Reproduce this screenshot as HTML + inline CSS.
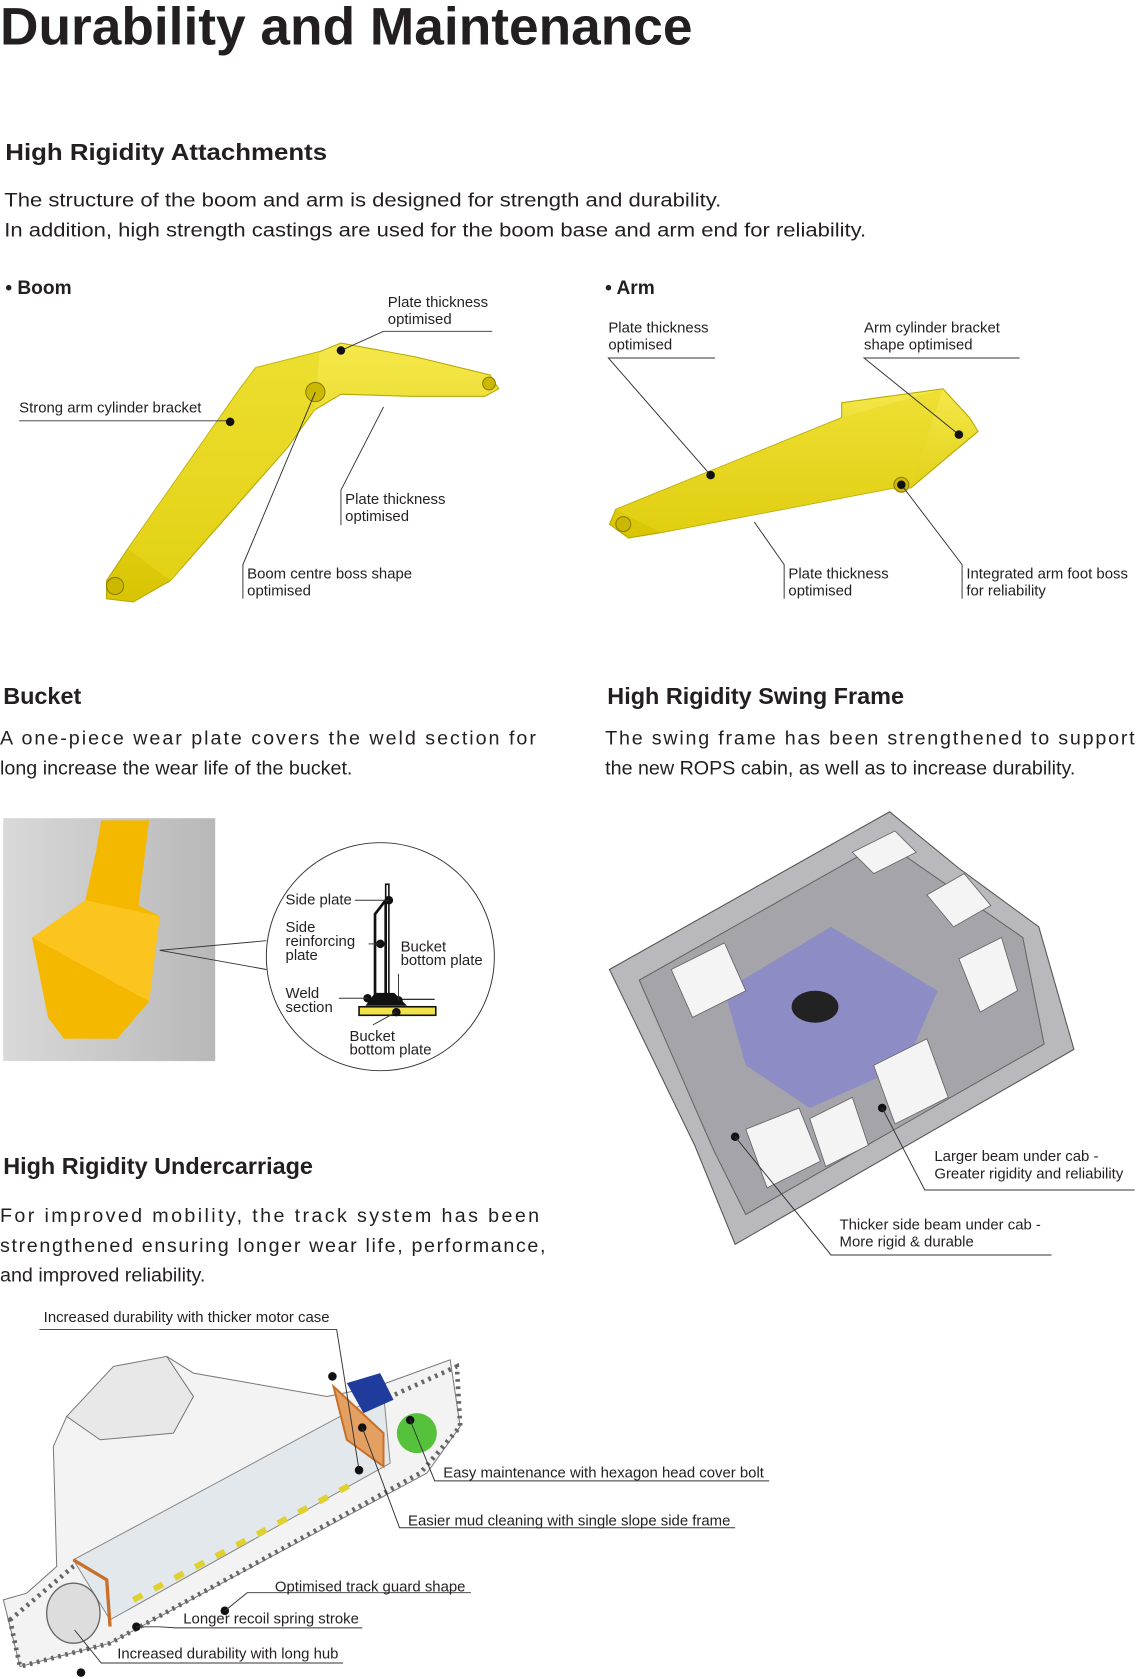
<!DOCTYPE html>
<html><head><meta charset="utf-8"><style>
html,body{margin:0;padding:0;background:#fff;}
svg{display:block;}
text{font-family:"Liberation Sans",Arial,sans-serif;fill:#231f20;}
.l{font-size:14px;}
.b{font-size:18.5px;}
.h{font-size:22px;font-weight:bold;}
.ln{stroke:#333;stroke-width:0.9;fill:none;}
.dot{fill:#111;}
</style></head><body>
<svg width="1140" height="1679" viewBox="0 0 1070 1576" preserveAspectRatio="none" xmlns="http://www.w3.org/2000/svg">
<defs>
<linearGradient id="yg" x1="0" y1="0" x2="0" y2="1"><stop offset="0" stop-color="#f5e84a"/><stop offset="1" stop-color="#d8c400"/></linearGradient>
<linearGradient id="bg" x1="0" y1="0" x2="1" y2="0"><stop offset="0" stop-color="#d9d9d9"/><stop offset="1" stop-color="#b8b8b8"/></linearGradient>
</defs>

<text x="0" y="42" font-size="50" font-weight="bold" textLength="650" lengthAdjust="spacingAndGlyphs">Durability and Maintenance</text>
<text x="5" y="150" class="h" textLength="302" lengthAdjust="spacingAndGlyphs">High Rigidity Attachments</text>
<text x="4" y="194" class="b" textLength="673" lengthAdjust="spacingAndGlyphs">The structure of the boom and arm is designed for strength and durability.</text>
<text x="4" y="222" class="b" textLength="809" lengthAdjust="spacingAndGlyphs">In addition, high strength castings are used for the boom base and arm end for reliability.</text>

<text x="5" y="276" font-size="18" font-weight="bold">• Boom</text>
<text x="568" y="276" font-size="18" font-weight="bold">• Arm</text>

<!-- Boom -->
<polygon points="100,545 120,515 225,365 240,345 300,330 320,322 390,335 460,352 468,365 455,372 385,372 320,370 295,385 270,420 160,545 125,565 100,562" fill="url(#yg)" stroke="#b8a800" stroke-width="1"/>
<polygon points="120,515 225,365 240,345 300,330 295,385 160,545" fill="#e8d820" opacity="0.6"/>
<circle cx="296" cy="368" r="9" fill="#cbb800" stroke="#8a7c00"/>
<circle cx="459" cy="360" r="6" fill="#cbb800" stroke="#8a7c00"/>
<circle cx="108" cy="550" r="8" fill="#cbb800" stroke="#8a7c00"/>
<polyline class="ln" points="320,329 360,311 462,311"/><circle class="dot" cx="320" cy="329" r="4"/>
<text x="364" y="288" class="l">Plate thickness</text><text x="364" y="304" class="l">optimised</text>
<polyline class="ln" points="18,395 216,395"/><circle class="dot" cx="216" cy="396" r="4"/>
<text x="18" y="387" class="l">Strong arm cylinder bracket</text>
<polyline class="ln" points="360,382 320,460 320,493"/>
<text x="324" y="473" class="l">Plate thickness</text><text x="324" y="489" class="l">optimised</text>
<polyline class="ln" points="296,368 228,530 228,562"/>
<text x="232" y="543" class="l">Boom centre boss shape</text><text x="232" y="559" class="l">optimised</text>

<!-- Arm -->
<polygon points="572,492 578,478 790,392 790,378 885,365 910,392 918,405 900,420 855,458 840,458 620,500 590,505" fill="url(#yg)" stroke="#b8a800"/>
<polygon points="578,478 790,392 885,365 855,458 840,458 620,500" fill="#e8d820" opacity="0.5"/>
<circle cx="846" cy="455" r="7" fill="#cbb800" stroke="#8a7c00"/>
<circle cx="585" cy="492" r="7" fill="#cbb800" stroke="#8a7c00"/>
<text x="571" y="312" class="l">Plate thickness</text><text x="571" y="328" class="l">optimised</text>
<polyline class="ln" points="671,336 571,336 667,446"/><circle class="dot" cx="667" cy="446" r="4"/>
<text x="811" y="312" class="l">Arm cylinder bracket</text><text x="811" y="328" class="l">shape optimised</text>
<polyline class="ln" points="957,336 811,336 900,408"/><circle class="dot" cx="900" cy="408" r="4"/>
<polyline class="ln" points="708,490 736,530 736,562"/>
<text x="740" y="543" class="l">Plate thickness</text><text x="740" y="559" class="l">optimised</text>
<polyline class="ln" points="846,455 903,530 903,562"/><circle class="dot" cx="846" cy="455" r="4"/>
<text x="907" y="543" class="l">Integrated arm foot boss</text><text x="907" y="559" class="l">for reliability</text>

<!-- Bucket section -->
<text x="3" y="661" class="h">Bucket</text>
<text x="0" y="699" class="b" textLength="503" lengthAdjust="spacing">A one-piece wear plate covers the weld section for</text>
<text x="0" y="727" class="b">long increase the wear life of the bucket.</text>

<rect x="3" y="768" width="199" height="228" fill="url(#bg)"/>
<polygon points="95,770 140,770 130,850 150,860 140,940 110,975 60,975 45,955 30,880 80,845 90,800" fill="#f5b800"/>
<polygon points="30,880 80,845 150,860 140,940" fill="#ffcc33" opacity="0.6"/>
<polyline class="ln" points="150,892 250,883"/><polyline class="ln" points="150,892 250,910"/>
<circle cx="357" cy="898" r="107" fill="#fff" stroke="#333" stroke-width="0.9"/>
<rect x="337" y="945" width="72" height="8" fill="#f2e24a" stroke="#111" stroke-width="1.5"/>
<rect x="362" y="830" width="3" height="108" fill="#fff" stroke="#111" stroke-width="1.5"/>
<polygon points="352,858 362,845 362,938 352,938" fill="#fff" stroke="#111" stroke-width="2.5"/>
<polygon points="343,944 352,932 370,932 382,944" fill="#111"/>
<line x1="370" y1="938" x2="408" y2="938" stroke="#111" stroke-width="1"/>
<circle class="dot" cx="365" cy="845" r="4"/><line class="ln" x1="333" y1="845" x2="365" y2="845"/>
<circle class="dot" cx="357" cy="886" r="4"/><line class="ln" x1="346" y1="886" x2="357" y2="886"/>
<circle class="dot" cx="345" cy="937" r="4"/><line class="ln" x1="318" y1="937" x2="345" y2="937"/>
<circle class="dot" cx="374" cy="939" r="4"/><line class="ln" x1="374" y1="939" x2="374" y2="914"/>
<circle class="dot" cx="372" cy="950" r="4"/><line class="ln" x1="372" y1="950" x2="350" y2="962"/>
<text x="268" y="849" class="l">Side plate</text>
<text x="268" y="875" class="l">Side</text><text x="268" y="888" class="l">reinforcing</text><text x="268" y="901" class="l">plate</text>
<text x="376" y="893" class="l">Bucket</text><text x="376" y="906" class="l">bottom plate</text>
<text x="268" y="937" class="l">Weld</text><text x="268" y="950" class="l">section</text>
<text x="328" y="977" class="l">Bucket</text><text x="328" y="990" class="l">bottom plate</text>

<!-- Swing frame -->
<text x="570" y="661" class="h">High Rigidity Swing Frame</text>
<text x="568" y="699" class="b" textLength="497" lengthAdjust="spacing">The swing frame has been strengthened to support</text>
<text x="568" y="727" class="b">the new ROPS cabin, as well as to increase durability.</text>
<polygon points="572,910 835,762 900,815 975,870 1008,985 690,1168 652,1075" fill="#b9b9bd" stroke="#555" stroke-width="1"/>
<polygon points="600,920 830,790 960,880 980,980 700,1140 670,1080" fill="#a4a4aa" stroke="#666"/>
<polygon points="680,930 780,870 880,930 850,1000 760,1040 700,1000" fill="#8e8cc4"/>
<ellipse cx="765" cy="945" rx="22" ry="15" fill="#222"/>
<g fill="#f4f4f4" stroke="#666" stroke-width="0.8">
<polygon points="800,800 840,780 860,800 820,820"/><polygon points="870,840 905,820 930,850 895,870"/>
<polygon points="900,900 940,880 955,930 920,950"/><polygon points="820,1000 870,975 890,1030 840,1055"/>
<polygon points="700,1060 750,1040 770,1090 720,1115"/><polygon points="630,910 680,885 700,930 650,955"/>
<polygon points="760,1050 800,1030 815,1075 775,1095"/>
</g>
<circle class="dot" cx="828" cy="1040" r="4"/><polyline class="ln" points="828,1040 868,1117 1065,1117"/>
<text x="877" y="1090" class="l">Larger beam under cab -</text><text x="877" y="1106" class="l">Greater rigidity and reliability</text>
<circle class="dot" cx="690" cy="1067" r="4"/><polyline class="ln" points="690,1067 780,1178 987,1178"/>
<text x="788" y="1154" class="l">Thicker side beam under cab -</text><text x="788" y="1170" class="l">More rigid &amp; durable</text>

<!-- Undercarriage -->
<text x="3" y="1102" class="h">High Rigidity Undercarriage</text>
<text x="0" y="1147" class="b" textLength="506" lengthAdjust="spacing">For improved mobility, the track system has been</text>
<text x="0" y="1175" class="b" textLength="512" lengthAdjust="spacing">strengthened ensuring longer wear life, performance,</text>
<text x="0" y="1203" class="b">and improved reliability.</text>

<g transform="translate(0,1220) scale(0.313)">
<path d="M160,440 L200,350 L500,170 L580,220 L980,290 L1130,260 L1350,180 L1380,380 L1280,520 L330,1030 L60,1100 L10,900 L80,880 L170,800 Z" fill="#f3f3f3" stroke="#777" stroke-width="3"/>
<path d="M30,960 L220,800 L1150,300 L1370,200 L1380,380 L1260,520 L330,1030 L60,1100 Z" fill="none" stroke="#666" stroke-width="14" stroke-dasharray="8 14"/>
<path d="M220,780 L1150,280 L1170,490 L330,960 Z" fill="#e2e8ec" stroke="#888" stroke-width="3"/>
<path d="M1000,260 L1150,400 L1150,500 L1040,420 Z" fill="#e3a060" stroke="#c8702a" stroke-width="6"/>
<path d="M1040,250 L1140,220 L1180,300 L1090,340 Z" fill="#1f3c9c"/>
<circle cx="1250" cy="400" r="60" fill="#56c23c"/>
<path d="M220,780 L320,840 L330,980" fill="none" stroke="#c8702a" stroke-width="10"/>
<ellipse cx="220" cy="940" rx="80" ry="90" fill="#ddd" stroke="#666" stroke-width="4"/>
<path d="M400,900 L1080,540" stroke="#e0d030" stroke-width="18" stroke-dasharray="30 40" fill="none"/>
<path d="M200,350 L340,200 L500,170 L580,290 L520,400 L300,420 Z" fill="#e8e8e8" stroke="#777" stroke-width="3"/>
</g>
<text x="41" y="1241" class="l">Increased durability with thicker motor case</text>
<polyline class="ln" points="37,1248 316,1248 337,1380"/><circle class="dot" cx="337" cy="1380" r="4"/>
<circle class="dot" cx="312" cy="1292" r="4"/>
<circle class="dot" cx="385" cy="1333" r="4"/><polyline class="ln" points="385,1333 408,1390 722,1390"/>
<text x="416" y="1387" class="l">Easy maintenance with hexagon head cover bolt</text>
<circle class="dot" cx="340" cy="1340" r="4"/><polyline class="ln" points="340,1340 375,1434 690,1434"/>
<text x="383" y="1432" class="l">Easier mud cleaning with single slope side frame</text>
<circle class="dot" cx="211" cy="1512" r="4"/><polyline class="ln" points="211,1512 232,1495 442,1495"/>
<text x="258" y="1494" class="l">Optimised track guard shape</text>
<circle class="dot" cx="128" cy="1527" r="4"/><polyline class="ln" points="128,1527 150,1527 165,1528 340,1528"/>
<text x="172" y="1524" class="l">Longer recoil spring stroke</text>
<circle class="dot" cx="76" cy="1570" r="4"/>
<polyline class="ln" points="70,1530 95,1561 322,1561"/>
<text x="110" y="1557" class="l">Increased durability with long hub</text>
</svg>
</body></html>
